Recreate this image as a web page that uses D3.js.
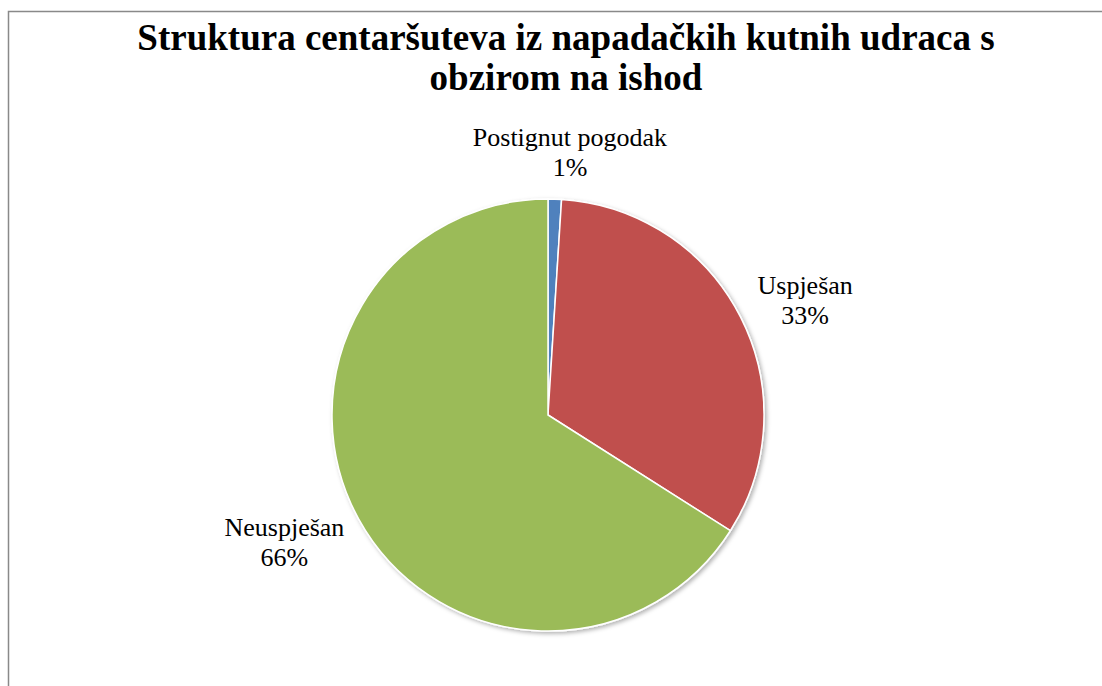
<!DOCTYPE html>
<html lang="hr">
<head>
  <meta charset="UTF-8">
  <title>Struktura centaršuteva</title>
</head>
<style>
    body {
      margin: 0;
      background: #fff;
      overflow: hidden;
    }
    .title {
      font-size: 37px;
      font-weight: bold;
    }
    .slice {
      stroke: #fff;
      stroke-width: 1.5px;
    }
</style>
<body>

<div id="chart"></div>

<script src="https://d3js.org/d3.v7.min.js"></script>

<script>
/* global d3 */

// outcome of crosses from attacking corner kicks
var categories = ["Postignut pogodak", "Uspješan", "Neuspješan"];
var shares = [1, 33, 66];
var colours = ["#4F81BD", "#C0504D", "#9BBB59"];
var titleLines = ["Struktura centaršuteva iz napadačkih kutnih udraca s", "obzirom na ishod"];

var serif = "'Liberation Serif', 'Times New Roman', Times, serif";
var width = 1102;
var height = 686;
var cx = 548, cy = 415, radius = 216;

var svg = d3.select("#chart")
    .append("svg")
    .attr("width", width)
    .attr("height", height)
    .style("display", "block");

var defs = svg.append("defs");
var shadow = defs.append("filter")
    .attr("id", "shadow")
    .attr("x", "-10%").attr("y", "-10%")
    .attr("width", "120%").attr("height", "120%");
shadow.append("feDropShadow")
    .attr("dx", 2).attr("dy", 2)
    .attr("stdDeviation", 2)
    .attr("flood-color", "#000")
    .attr("flood-opacity", 0.3);

// chart area border (only left and top edges fall inside the picture)
svg.append("path")
    .attr("d", "M8.5," + height + "V11.5H" + width)
    .attr("fill", "none")
    .attr("stroke", "#898989")
    .attr("stroke-width", 1.5);

svg.selectAll(".title")
    .data(titleLines)
    .enter()
    .append("text")
    .attr("class", "title")
    .attr("x", 566)
    .attr("y", function(d, i) { return 50 + i * 40; })
    .attr("text-anchor", "middle")
    .style("font-family", serif)
    .text(function(d) { return d; });

var data = categories.map(function(c, i) {
  return { name: c, value: shares[i], colour: colours[i] };
});

var pie = d3.pie()
    .sort(null)
    .value(function(d) { return d.value; });

var arc = d3.arc()
    .innerRadius(0)
    .outerRadius(radius);

var arcs = pie(data);

var g = svg.append("g")
    .attr("transform", "translate(" + cx + "," + cy + ")");

g.append("g")
    .attr("filter", "url(#shadow)")
    .selectAll("path")
    .data(arcs)
    .enter()
    .append("path")
    .attr("class", "slice")
    .attr("d", arc)
    .attr("fill", function(d) { return d.data.colour; });

// labels outside the pie, pushed out so their box clears the edge
var gap = 10;
var nudge = 0.052;   // labels sit a few degrees clockwise of the slice middle
var lineH = 30;
var labels = g.selectAll(".label")
    .data(arcs)
    .enter()
    .append("text")
    .attr("class", "label")
    .attr("text-anchor", "middle")
    .style("font-family", serif)
    .style("font-size", "26px")
    .attr("fill", "#000");

labels.append("tspan")
    .attr("x", 0).attr("dy", 0)
    .text(function(d) { return d.data.name; });
labels.append("tspan")
    .attr("x", 0).attr("dy", lineH)
    .text(function(d) {
      var total = d3.sum(shares);
      return Math.round(d.data.value / total * 100) + "%";
    });

labels.each(function(d) {
  var box = this.getBBox();
  var mid = (d.startAngle + d.endAngle) / 2 + nudge;
  var s = Math.sin(mid), c = -Math.cos(mid);
  var extent = Math.abs(s) * box.width / 2 + Math.abs(c) * box.height / 2;
  var dist = radius + gap + extent;
  var px = s * dist, py = c * dist;
  // shift so the box centre lands on (px, py)
  var bx = box.x + box.width / 2, by = box.y + box.height / 2;
  d3.select(this).attr("transform", "translate(" + (px - bx) + "," + (py - by) + ")");
});

</script>

</body>
</html>
